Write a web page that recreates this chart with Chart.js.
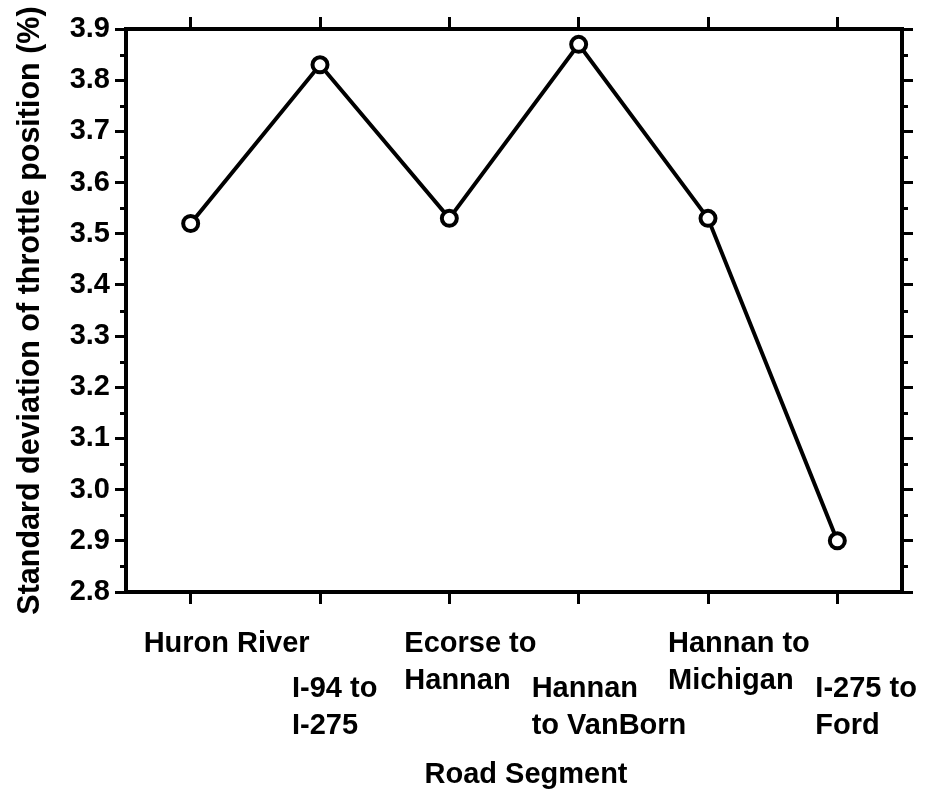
<!DOCTYPE html>
<html>
<head>
<meta charset="utf-8">
<script src="https://cdn.jsdelivr.net/npm/chart.js@4/dist/chart.umd.min.js"></script>
<style>
  html, body { margin: 0; padding: 0; background: #fff; }
  #wrap { width: 927px; height: 791px; }
</style>
</head>
<body>
<div id="wrap"><canvas id="c" width="927" height="791"></canvas></div>
<script>
// Road segments (multi-line category labels) and throttle-position variability
const segments = [
  ['Huron River'],
  ['I-94 to', 'I-275'],
  ['Ecorse to', 'Hannan'],
  ['Hannan', 'to VanBorn'],
  ['Hannan to', 'Michigan'],
  ['I-275 to', 'Ford']
];
const throttleSD = [3.52, 3.83, 3.53, 3.87, 3.53, 2.90];

// Value axis range and tick spacing
const yMin = 2.8;
const yMax = 3.9;
const yStep = 0.1;

const xTitle = 'Road Segment';
const yTitle = 'Standard deviation of throttle position (%)';

const FONT = "'Liberation Sans', Arial, Helvetica, sans-serif";
const INK = '#000';

// Staggered category labels: left offset from each tick, and row (0 = upper, 1 = lower)
const labelShift = [-47, -28, -45, -47, -40, -22];
const rowBaseline = [652, 697];
const lineGap = 37;

const frameTicks = {
  id: 'frameTicks',
  afterDraw(chart) {
    const ctx = chart.ctx;
    const a = chart.chartArea;
    const y = chart.scales.y;
    const x = chart.scales.x;
    ctx.save();
    // minor ticks on both value axes
    ctx.strokeStyle = INK;
    ctx.lineWidth = 3;
    const n = Math.round((yMax - yMin) / yStep);
    for (let k = 0; k < n; k++) {
      const py = Math.round(y.getPixelForValue(yMin + (k + 0.5) * yStep)) + 0.5;
      ctx.beginPath();
      ctx.moveTo(a.left - 6, py); ctx.lineTo(a.left, py);
      ctx.moveTo(a.right, py); ctx.lineTo(a.right + 6, py);
      ctx.stroke();
    }
    // category labels, staggered in two rows
    ctx.fillStyle = INK;
    ctx.font = "bold 29px " + FONT;
    ctx.textAlign = 'left';
    ctx.textBaseline = 'alphabetic';
    segments.forEach((lines, i) => {
      const px = x.getPixelForTick(i) + labelShift[i];
      const base = rowBaseline[i % 2];
      lines.forEach((t, j) => ctx.fillText(t, px, base + j * lineGap));
    });
    // category axis title
    ctx.textAlign = 'center';
    ctx.fillText(xTitle, (a.left + a.right) / 2 + 12, 783);
    ctx.restore();
  }
};

const axisGrid = (len) => ({
  display: true,
  drawOnChartArea: false,
  drawTicks: true,
  tickLength: len,
  lineWidth: 3,
  color: INK
});
const axisBorder = { display: true, color: INK, width: 4 };

new Chart(document.getElementById('c'), {
  type: 'line',
  data: {
    labels: segments,
    datasets: [{
      data: throttleSD,
      borderColor: INK,
      borderWidth: 4,
      tension: 0,
      pointRadius: 7.5,
      pointBorderWidth: 4,
      pointBackgroundColor: '#fff',
      pointBorderColor: INK,
      clip: false
    }]
  },
  options: {
    responsive: false,
    animation: false,
    devicePixelRatio: 1,
    layout: { padding: 0 },
    plugins: { legend: { display: false }, tooltip: { enabled: false } },
    scales: {
      x: {
        type: 'category',
        position: 'bottom',
        offset: true,
        grid: axisGrid(12),
        border: axisBorder,
        ticks: { display: false },
        afterFit: s => { s.height = 199; }
      },
      xTop: {
        type: 'category',
        position: 'top',
        offset: true,
        grid: axisGrid(12),
        border: axisBorder,
        ticks: { display: false },
        afterFit: s => { s.height = 29; }
      },
      y: {
        type: 'linear',
        position: 'left',
        min: yMin,
        max: yMax,
        grid: axisGrid(11),
        border: axisBorder,
        ticks: {
          stepSize: yStep,
          color: INK,
          padding: 5,
          font: { family: FONT, size: 29, weight: 'bold' },
          callback: v => Number(v).toFixed(1)
        },
        title: {
          display: true,
          text: yTitle,
          color: INK,
          font: { family: FONT, size: 30.5, weight: 'bold' },
          padding: { top: 12, bottom: 0 }
        },
        afterFit: s => { s.width = 126; }
      },
      yRight: {
        type: 'linear',
        position: 'right',
        min: yMin,
        max: yMax,
        grid: axisGrid(11),
        border: axisBorder,
        ticks: { display: false, stepSize: yStep },
        afterFit: s => { s.width = 25; }
      }
    }
  },
  plugins: [frameTicks]
});
</script>
</body>
</html>
